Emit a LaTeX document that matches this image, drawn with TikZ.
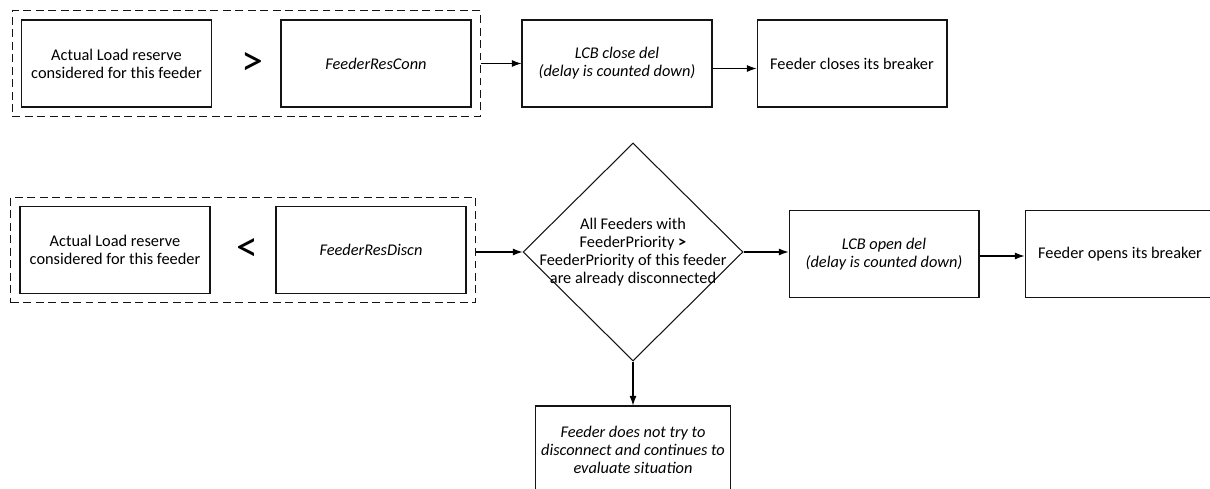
\documentclass[tikz,border=0pt]{standalone}
\usepackage{fontspec}
\setmainfont{Carlito}
\usepackage{tikz}
\usetikzlibrary{shapes.geometric,arrows.meta,positioning,fit}
\definecolor{lineGray}{RGB}{20,20,20}

\tikzset{
  flowBox/.style={draw=lineGray, line width=0.6pt, minimum width=3.8cm, minimum height=1.74cm,
                  align=center, font=\fontsize{9.3}{10.2}\selectfont},
  decBox/.style={draw=lineGray, line width=0.6pt, shape=diamond, aspect=1, inner sep=-9pt,
                 minimum width=4.4cm, minimum height=4.36cm, align=center,
                 font=\fontsize{9.3}{10.2}\selectfont},
  groupBox/.style={draw=lineGray, line width=0.6pt, dash pattern=on 4.5pt off 2.6pt, inner sep=5pt},
  relSign/.style={font=\fontsize{25}{28}\selectfont},
  flowArrow/.style={draw=black, line width=0.6pt, -{Latex[length=5.5pt,width=4pt]}}
}

\begin{document}
\begin{tikzpicture}[x=0.02cm, y=-0.02cm]
                    \useasboundingbox (0,0) rectangle (1210,489);
                    \clip (0,0) rectangle (1210,489);

                    % connection branch
                    \node[flowBox] (loadA) at (116.5,63.5) {Actual Load reserve\\considered for this feeder};
                    \node[relSign] (gtSign) at (252,64) {>};
                    \node[flowBox] (resConn) at (376,63.5) {\textit{FeederResConn}};
                    \node[groupBox, fit=(loadA)(resConn)] (grpConn) {};
                    \node[flowBox] (closeDel) at (617,63.5) {\textit{LCB close del}\\\textit{(delay is counted down)}};
                    \node[flowBox] (closeBrk) at (852,63.5) {Feeder closes its breaker};

                    \draw[flowArrow] (grpConn.east) -- (closeDel.west);
                    \draw[flowArrow] ([yshift=-0.1cm]closeDel.east) -- ([yshift=-0.1cm]closeBrk.west);

                    % disconnection branch
                    \node[flowBox] (loadB) at (115,250) {Actual Load reserve\\considered for this feeder};
                    \node[relSign] (ltSign) at (247,250) {<};
                    \node[flowBox] (resDiscn) at (371,250) {\textit{FeederResDiscn}};
                    \node[groupBox, fit=(loadB)(resDiscn)] (grpDiscn) {};
                    \node[decBox] (prioChk) at (633,252) {All Feeders with\\FeederPriority \textbf{>}\\FeederPriority of this feeder\\are already disconnected};
                    \node[flowBox] (openDel) at (884,254) {\textit{LCB open del}\\\textit{(delay is counted down)}};
                    \node[flowBox] (openBrk) at (1120,254) {Feeder opens its breaker};
                    \node[flowBox] (keepEval) at (633,449.5) {\textit{Feeder does not try to}\\\textit{disconnect and continues to}\\\textit{evaluate situation}};

                    \draw[flowArrow] (grpDiscn.east |- prioChk.west) -- (prioChk.west);
                    \draw[flowArrow] (prioChk.east) -- (openDel.west |- prioChk.east);
                    \draw[flowArrow] ([yshift=-0.04cm]openDel.east) -- ([yshift=-0.04cm]openBrk.west);
                    \draw[flowArrow] (prioChk.south) -- (keepEval.north);
                \end{tikzpicture}
\end{document}
